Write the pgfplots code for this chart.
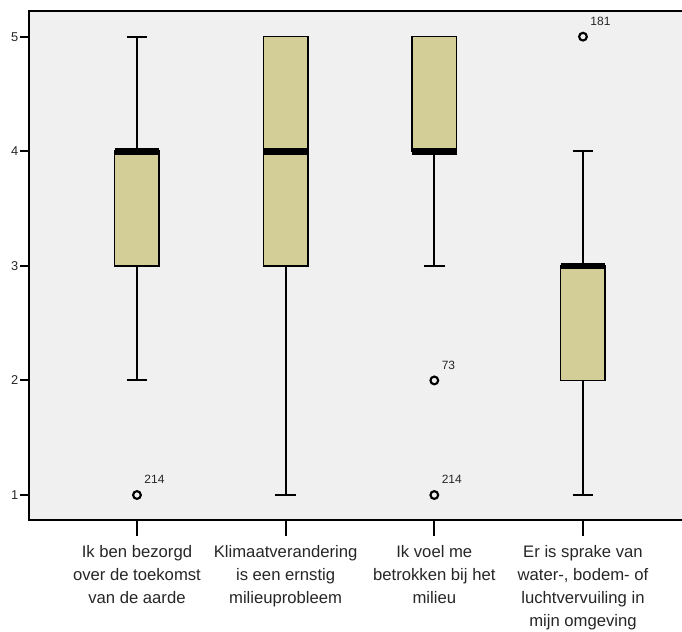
\documentclass[border=0pt]{standalone}
\usepackage{pgfplots}
\pgfplotsset{compat=1.18}
\usepgfplotslibrary{statistics}
\usepackage{fontspec}
\setmainfont{Liberation Sans}

\definecolor{boxfill}{RGB}{211,206,152}
\definecolor{panel}{RGB}{240,240,240}

\begin{document}
\begin{tikzpicture}
\useasboundingbox (-22.1pt,-84pt) rectangle (489.4pt,390pt);
\begin{axis}[
  scale only axis,
  width=495.75pt, height=381.75pt,
  xmin=0.277, xmax=4.723,
  ymin=0.782, ymax=5.224,
  axis background/.style={fill=panel},
  axis line style={line width=1.5pt},
  xtick={1,2,3,4},
  xticklabels={
    {Ik ben bezorgd\\over de toekomst\\van de aarde},
    {Klimaatverandering\\is een ernstig\\milieuprobleem},
    {Ik voel me\\betrokken bij het\\milieu},
    {Er is sprake van\\water-, bodem- of\\luchtvervuiling in\\mijn omgeving}},
  xticklabel style={align=center, yshift=-8.5pt, font=\fontsize{12.5}{17.3}\selectfont, text=black!85},
  ytick={1,2,3,4,5},
  yticklabel style={font=\fontsize{9.6}{11}\selectfont, inner sep=1.5pt, text=black!85},
  /pgf/number format/assume math mode=true,
  tick align=outside,
  tick pos=left,
  major tick length=6.75pt,
  xtick style={/pgfplots/major tick length=12pt},
  tick style={line width=1.4pt, black},
  boxplot/draw direction=y,
  boxplot/box extend=0.3,
  boxplot/whisker extend=0.14,
  boxplot/every box/.style={draw=black, line width=1.2pt, fill=boxfill},
  boxplot/every whisker/.style={black, line width=1.5pt},
  boxplot/every median/.style={black, line width=5pt},
]
% Ik ben bezorgd over de toekomst van de aarde
\addplot[boxplot prepared={draw position=1,
  lower whisker=2, lower quartile=3, median=4,
  upper quartile=4, upper whisker=5}] coordinates {};
% Klimaatverandering is een ernstig milieuprobleem
\addplot[boxplot prepared={draw position=2,
  lower whisker=1, lower quartile=3, median=4,
  upper quartile=5, upper whisker=5}] coordinates {};
% Ik voel me betrokken bij het milieu
\addplot[boxplot prepared={draw position=3,
  lower whisker=3, lower quartile=4, median=4,
  upper quartile=5, upper whisker=5}] coordinates {};
% Er is sprake van water-, bodem- of luchtvervuiling
\addplot[boxplot prepared={draw position=4,
  lower whisker=1, lower quartile=2, median=3,
  upper quartile=3, upper whisker=4}] coordinates {};
% outliers with case numbers
\addplot[only marks, mark=o, mark size=2.9pt, line width=1.6pt, black,
  nodes near coords, point meta=explicit symbolic,
  nodes near coords style={anchor=south west, inner sep=0pt,
    xshift=4.8pt, yshift=7.5pt, text=black!85,
    font=\fontsize{9}{10}\selectfont}]
  table[meta=label] {
x y label
1 1 214
3 2 73
3 1 214
4 5 181
};
\end{axis}
\end{tikzpicture}
\end{document}
